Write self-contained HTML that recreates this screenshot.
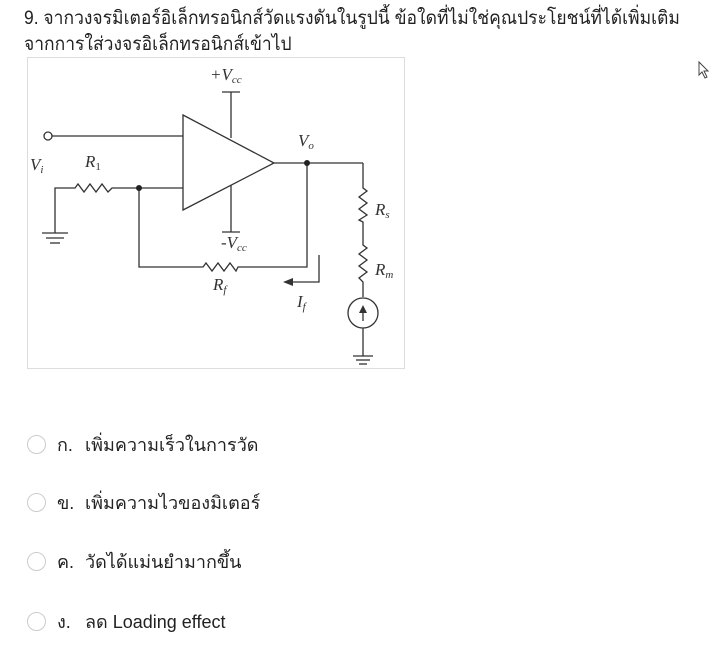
<!DOCTYPE html>
<html><head><meta charset="utf-8"><style>
body{margin:0;width:725px;height:648px;background:#fff;overflow:hidden;font-family:"Liberation Sans","DejaVu Sans",sans-serif;color:#222;position:relative}
.q{position:absolute;left:24px;top:6px;font-size:19px;line-height:26px;white-space:nowrap;transform:scaleX(0.92);transform-origin:0 0}
.opt{position:absolute;left:27px;font-size:18px;height:22px;line-height:22px;white-space:nowrap}
.opt i{display:inline-block;width:17px;height:17px;border:1.5px solid #ccc;border-radius:50%;vertical-align:middle;margin-right:11px;margin-top:-3px}
.opt b{font-weight:normal;display:inline-block;width:28px}
svg{position:absolute;left:0;top:0}
</style></head><body>
<div class="q">9. จากวงจรมิเตอร์อิเล็กทรอนิกส์วัดแรงดันในรูปนี้ ข้อใดที่ไม่ใช่คุณประโยชน์ที่ได้เพิ่มเติม<br>จากการใส่วงจรอิเล็กทรอนิกส์เข้าไป</div>
<svg width="725" height="648" viewBox="0 0 725 648">
<rect x="27.5" y="57.5" width="377" height="311" fill="none" stroke="#ddd"/>
<g stroke="#333" stroke-width="1.3" fill="none">
<circle cx="48" cy="136" r="4"/>
<line x1="52" y1="136" x2="183" y2="136"/>
<polygon points="183,115 183,210 274,163"/>
<line x1="231" y1="92" x2="231" y2="138"/><line x1="222" y1="92" x2="240" y2="92"/>
<line x1="231" y1="185" x2="231" y2="232"/><line x1="222" y1="232" x2="240" y2="232"/>
<line x1="274" y1="163" x2="363" y2="163"/>
<polyline points="363,163 363,188 367,191 359,197 367,203 359,209 367,215 359,220 363,222 363,245 367,248 359,254 367,260 359,266 367,272 359,278 363,282 363,297"/>
<circle cx="363" cy="313" r="15"/>
<line x1="363" y1="328" x2="363" y2="356"/>
<line x1="353" y1="356" x2="373" y2="356"/><line x1="356" y1="360" x2="370" y2="360"/><line x1="359" y1="364" x2="367" y2="364"/>
<line x1="363" y1="321" x2="363" y2="307"/>
<polyline points="55,233 55,188 75,188 78,184 84,192 90,184 96,192 102,184 108,192 112,188 183,188"/>
<line x1="42" y1="233" x2="68" y2="233"/><line x1="46" y1="238" x2="64" y2="238"/><line x1="50" y1="243" x2="60" y2="243"/>
<polyline points="139,188 139,267 203,267 206,263 212,271 218,263 224,271 230,263 236,271 238,267 307,267 307,163"/>
<polyline points="319,255 319,282 290,282"/>
</g>
<polygon points="283,282 293,278 293,286" fill="#333"/>
<polygon points="363,305 359,313 367,313" fill="#333"/>
<circle cx="307" cy="163" r="3" fill="#222"/><circle cx="139" cy="188" r="3" fill="#222"/>
<g font-family="Liberation Serif,serif" font-style="italic" font-size="17" fill="#333">
<text x="210" y="80">+V<tspan font-size="11" dy="3">cc</tspan></text>
<text x="221" y="248">-V<tspan font-size="11" dy="3">cc</tspan></text>
<text x="298" y="146">V<tspan font-size="11" dy="3">o</tspan></text>
<text x="30" y="170">V<tspan font-size="11" dy="3">i</tspan></text>
<text x="85" y="167">R<tspan font-size="11" font-style="normal" dy="3">1</tspan></text>
<text x="375" y="215">R<tspan font-size="11" dy="3">s</tspan></text>
<text x="375" y="275">R<tspan font-size="11" dy="3">m</tspan></text>
<text x="213" y="290">R<tspan font-size="11" dy="3">f</tspan></text>
<text x="297" y="307">I<tspan font-size="11" dy="3">f</tspan></text>
</g>
<path d="M699 62 L699 75 L702 72 L705 78 L707 77 L704 71 L708 71 Z" fill="#fff" stroke="#444" stroke-width="1"/>
</svg>
<div class="opt" style="top:434px"><i></i><b>ก.</b>เพิ่มความเร็วในการวัด</div>
<div class="opt" style="top:492px"><i></i><b>ข.</b>เพิ่มความไวของมิเตอร์</div>
<div class="opt" style="top:551px"><i></i><b>ค.</b>วัดได้แม่นยำมากขึ้น</div>
<div class="opt" style="top:611px"><i></i><b>ง.</b>ลด Loading effect</div>
</body></html>
